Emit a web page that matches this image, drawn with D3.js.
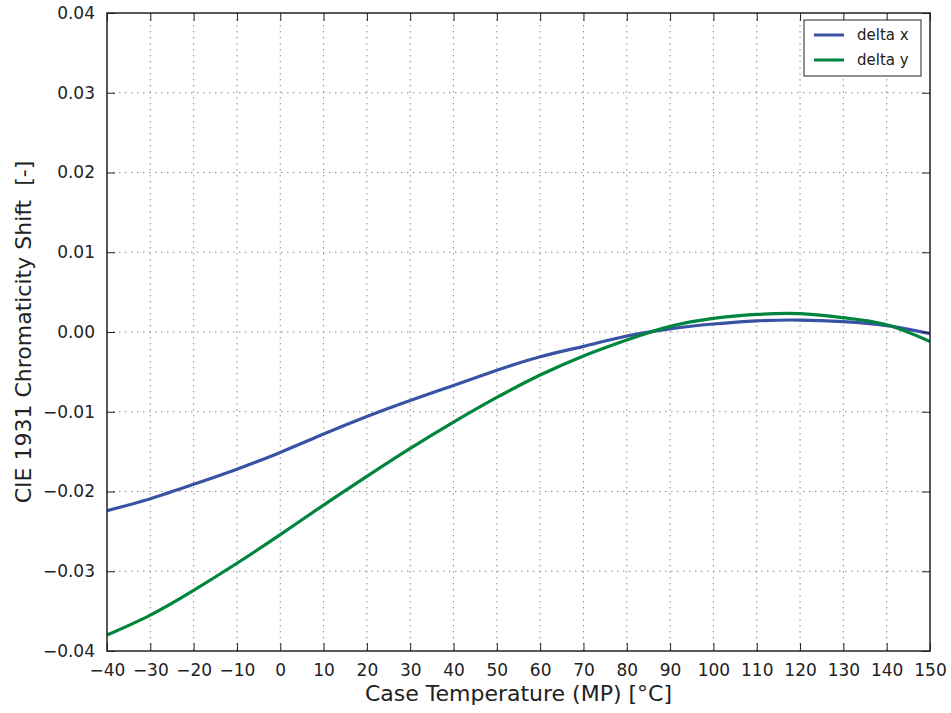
<!DOCTYPE html>
<html>
<head>
<meta charset="utf-8">
<script src="https://cdn.jsdelivr.net/npm/d3@7"></script>
<style>
  body { margin: 0; background: #fff; }
  svg { font-family: 'DejaVu Sans', sans-serif; }
</style>
</head>
<body>
<svg id="chart" width="951" height="713"></svg>
<script>
const temps = [-40, -30, -20, -10, 0, 10, 20, 30, 40, 50, 60, 70, 80, 90, 100, 110, 120, 130, 140, 150]
const deltaX = [-0.0224, -0.0209, -0.0191, -0.0172, -0.0151, -0.0128, -0.0106, -0.0086, -0.0067, -0.0048,
  -0.0031, -0.0018, -0.0005, 0.0004, 0.0010, 0.0014, 0.0015, 0.0013, 0.0008, -0.0002]
const deltaY = [-0.0380, -0.0355, -0.0324, -0.0290, -0.0254, -0.0217, -0.0181, -0.0146, -0.0113, -0.0082,
  -0.0054, -0.0030, -0.0010, 0.0007, 0.0017, 0.0022, 0.0023, 0.0018, 0.0009, -0.0012]
const xTicks = d3.range(-40, 151, 10)
const yTicks = [-0.04, -0.03, -0.02, -0.01, 0, 0.01, 0.02, 0.03, 0.04]
const seriesNames = ['delta x', 'delta y']
const seriesColors = ['#3953a4', '#00853e']

const margin = { top: 13, right: 21, bottom: 62, left: 107 }
const width = 951 - margin.left - margin.right
const height = 713 - margin.top - margin.bottom

const svg = d3.select('#chart')
const g = svg.append('g').attr('transform', `translate(${margin.left},${margin.top})`)

const x = d3.scaleLinear().domain([-40, 150]).range([0, width])
const y = d3.scaleLinear().domain([-0.04, 0.04]).range([height, 0])

// grid
const gGrid = g.append('g')
gGrid.selectAll('line.vx').data(xTicks.slice(1, -1)).enter().append('line')
  .attr('x1', x).attr('x2', x).attr('y1', 0).attr('y2', height)
gGrid.selectAll('line.hy').data(yTicks.slice(1, -1)).enter().append('line')
  .attr('y1', y).attr('y2', y).attr('x1', 0).attr('x2', width)
gGrid.selectAll('line')
  .style('stroke', '#8c8c8c').style('stroke-width', 1).style('stroke-dasharray', '1.5,4.5')

// lines
const series = [deltaX, deltaY]
const line = d3.line()
  .x((d, i) => x(temps[i]))
  .y((d) => y(d))
  .curve(d3.curveNatural)

const clip = svg.append('defs').append('clipPath').attr('id', 'clip')
clip.append('rect').attr('width', width).attr('height', height)

g.append('g').attr('clip-path', 'url(#clip)')
  .selectAll('path').data(series).enter().append('path')
  .attr('d', line)
  .style('fill', 'none')
  .style('stroke', (d, i) => seriesColors[i])
  .style('stroke-width', 3.2)

// axes with inward ticks on all sides
const fmtY = d3.format('.2f')
const fmtX = d3.format('d')
const axisBottom = d3.axisBottom(x).tickValues(xTicks).tickSize(-8).tickPadding(13).tickFormat(fmtX)
const axisLeft = d3.axisLeft(y).tickValues(yTicks).tickSize(-8).tickPadding(12).tickFormat(fmtY)
const axisTop = d3.axisTop(x).tickValues(xTicks).tickSize(-8).tickFormat('')
const axisRight = d3.axisRight(y).tickValues(yTicks).tickSize(-8).tickFormat('')

const gx = g.append('g').attr('transform', `translate(0,${height})`).call(axisBottom)
const gy = g.append('g').call(axisLeft)
const gt = g.append('g').call(axisTop)
const gr = g.append('g').attr('transform', `translate(${width},0)`).call(axisRight)

;[gx, gy, gt, gr].forEach((a) => {
  a.select('.domain').remove()
  a.selectAll('.tick line').style('stroke', '#222').style('stroke-width', 1)
  a.selectAll('.tick text').style('font-size', '17px').style('fill', '#222')
    .style('font-family', "'DejaVu Sans', sans-serif")
})

g.append('rect')
  .attr('width', width).attr('height', height)
  .style('fill', 'none').style('stroke', '#222').style('stroke-width', 1.5)

// labels
svg.append('text')
  .attr('x', margin.left + width / 2).attr('y', 701)
  .style('text-anchor', 'middle').style('font-size', '22px').style('fill', '#222')
  .text('Case Temperature (MP) [°C]')

svg.append('text')
  .attr('transform', `translate(31,${margin.top + height / 2}) rotate(-90)`)
  .style('text-anchor', 'middle').style('font-size', '22px').style('fill', '#222')
  .style('white-space', 'pre')
  .text('CIE 1931 Chromaticity Shift  [-]')

// legend
const legend = svg.append('g').attr('transform', 'translate(804,20)')
legend.append('rect')
  .attr('width', 117).attr('height', 56)
  .style('fill', '#fff').style('stroke', '#222').style('stroke-width', 1)
const items = legend.selectAll('g.item').data(seriesNames).enter().append('g')
  .attr('transform', (d, i) => `translate(0,${15 + i * 25})`)
items.append('line')
  .attr('x1', 10).attr('x2', 40)
  .style('stroke', (d, i) => seriesColors[i]).style('stroke-width', 3)
items.append('text')
  .attr('x', 53).attr('dy', '0.35em')
  .style('font-size', '15px').style('fill', '#222')
  .text((d) => d)
</script>
</body>
</html>
